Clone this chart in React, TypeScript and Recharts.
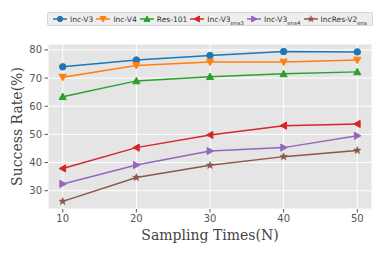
import React from 'react';
import { LineChart, Line, XAxis, YAxis, CartesianGrid, Legend } from 'recharts';

const samplingTimes = [10, 20, 30, 40, 50];
const incV3 = [74.0, 76.4, 78.0, 79.4, 79.3];
const incV4 = [70.3, 74.5, 75.7, 75.7, 76.4];
const res101 = [63.4, 69.0, 70.5, 71.5, 72.2];
const incV3ens3 = [37.9, 45.3, 49.8, 53.1, 53.7];
const incV3ens4 = [32.4, 39.1, 44.1, 45.3, 49.5];
const incResV2ens = [26.2, 34.7, 39.0, 42.1, 44.3];
const xTicks = [10, 20, 30, 40, 50];
const yTicks = [30, 40, 50, 60, 70, 80];

const seriesDefs = [
  { key: 'incV3', name: 'Inc-V3', sub: '', color: '#1f77b4', shape: 'circle' },
  { key: 'incV4', name: 'Inc-V4', sub: '', color: '#ff7f0e', shape: 'down' },
  { key: 'res101', name: 'Res-101', sub: '', color: '#2ca02c', shape: 'up' },
  { key: 'incV3ens3', name: 'Inc-V3', sub: 'ens3', color: '#d62728', shape: 'left' },
  { key: 'incV3ens4', name: 'Inc-V3', sub: 'ens4', color: '#9467bd', shape: 'right' },
  { key: 'incResV2ens', name: 'IncRes-V2', sub: 'ens', color: '#8c564b', shape: 'star' },
];

const data = samplingTimes.map((n, i) => ({
  n,
  incV3: incV3[i],
  incV4: incV4[i],
  res101: res101[i],
  incV3ens3: incV3ens3[i],
  incV3ens4: incV3ens4[i],
  incResV2ens: incResV2ens[i],
}));

function starPath(cx: number, cy: number, R: number) {
  const r = R * 0.42;
  let d = '';
  for (let i = 0; i < 10; i++) {
    const a = -Math.PI / 2 + (i * Math.PI) / 5;
    const rad = i % 2 === 0 ? R : r;
    const x = cx + rad * Math.cos(a);
    const y = cy + rad * Math.sin(a);
    d += (i === 0 ? 'M' : 'L') + x.toFixed(2) + ',' + y.toFixed(2);
  }
  return d + 'Z';
}

function MarkerShape({ shape, cx, cy, color, s }: any) {
  if (cx == null || cy == null) return null;
  switch (shape) {
    case 'circle':
      return <circle cx={cx} cy={cy} r={s * 0.9} fill={color} stroke={color} />;
    case 'down':
      return <polygon points={`${cx - s},${cy - s * 0.8} ${cx + s},${cy - s * 0.8} ${cx},${cy + s}`} fill={color} stroke={color} />;
    case 'up':
      return <polygon points={`${cx - s},${cy + s * 0.8} ${cx + s},${cy + s * 0.8} ${cx},${cy - s}`} fill={color} stroke={color} />;
    case 'left':
      return <polygon points={`${cx + s * 0.8},${cy - s} ${cx + s * 0.8},${cy + s} ${cx - s},${cy}`} fill={color} stroke={color} />;
    case 'right':
      return <polygon points={`${cx - s * 0.8},${cy - s} ${cx - s * 0.8},${cy + s} ${cx + s},${cy}`} fill={color} stroke={color} />;
    case 'star':
      return <path d={starPath(cx, cy, s * 1.1)} fill={color} stroke={color} strokeWidth={0.5} />;
    default:
      return null;
  }
}

const LegendContent = () => (
  <div
    style={{
      display: 'flex',
      alignItems: 'center',
      justifyContent: 'space-between',
      boxSizing: 'border-box',
      width: 326,
      height: 14,
      padding: '0 5px 0 5px',
      background: '#eeeeee',
      border: '1px solid #d8d8d8',
      borderRadius: 2,
      fontFamily: 'DejaVu Sans, sans-serif',
      fontSize: 7.5,
      color: '#333',
    }}
  >
    {seriesDefs.map((s) => (
      <div key={s.key} style={{ display: 'flex', alignItems: 'center' }}>
        <svg width={14} height={10} style={{ marginRight: 3 }}>
          <line x1={0} y1={5} x2={14} y2={5} stroke={s.color} strokeWidth={1.5} />
          <MarkerShape shape={s.shape} cx={7} cy={5} color={s.color} s={3} />
        </svg>
        <span style={{ whiteSpace: 'nowrap' }}>
          {s.name}
          {s.sub ? <sub style={{ fontSize: 5.5, verticalAlign: 'sub', lineHeight: 0 }}>{s.sub}</sub> : null}
        </span>
      </div>
    ))}
  </div>
);

export default function App() {
  return (
    <div style={{ position: 'absolute', left: 0, top: 0, width: 382, height: 255, background: '#fff' }}>
      <LineChart width={382} height={255} data={data} margin={{ top: 30, right: 10, bottom: 0, left: 0 }}>
        <CartesianGrid stroke="#ffffff" strokeWidth={1} fill="#e5e5e5" fillOpacity={1} vertical horizontal />
        <XAxis
          dataKey="n"
          type="number"
          domain={[8, 52]}
          ticks={xTicks}
          height={46}
          axisLine={false}
          tickSize={3.5}
          tickMargin={2}
          tickLine={{ stroke: '#555555' }}
          tick={{ fill: '#555555', fontSize: 10, fontFamily: 'DejaVu Sans, sans-serif' }}
          label={{
            value: 'Sampling Times(N)',
            position: 'insideBottom',
            offset: 15,
            style: { fill: '#444444', fontSize: 14, fontFamily: 'DejaVu Serif, serif' },
          }}
        />
        <YAxis
          type="number"
          domain={[23.5, 82.1]}
          ticks={yTicks}
          width={48}
          axisLine={false}
          tickSize={3.5}
          tickMargin={2.5}
          tickLine={{ stroke: '#555555' }}
          tick={{ fill: '#555555', fontSize: 10, fontFamily: 'DejaVu Sans, sans-serif' }}
          label={{
            value: 'Success Rate(%)',
            angle: -90,
            position: 'insideLeft',
            offset: 17,
            style: { fill: '#444444', fontSize: 14, fontFamily: 'DejaVu Serif, serif', textAnchor: 'middle' },
          }}
        />
        <Legend
          verticalAlign="top"
          content={<LegendContent />}
          wrapperStyle={{ position: 'absolute', top: 12, left: 47, width: 326 }}
        />
        {seriesDefs.map((s) => (
          <Line
            key={s.key}
            dataKey={s.key}
            name={s.name + s.sub}
            stroke={s.color}
            strokeWidth={1.5}
            isAnimationActive={false}
            dot={(p: any) => <MarkerShape key={`${s.key}-${p.index}`} shape={s.shape} cx={p.cx} cy={p.cy} color={s.color} s={3.6} />}
            activeDot={false}
          />
        ))}
      </LineChart>
    </div>
  );
}
